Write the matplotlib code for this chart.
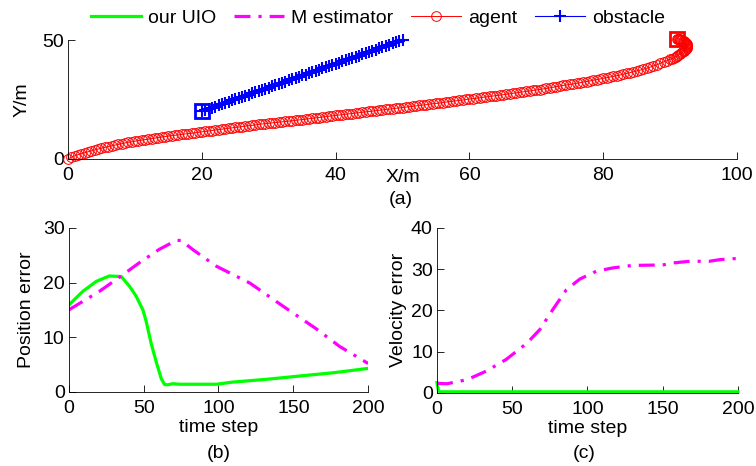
import matplotlib.pyplot as plt

plt.rcParams['font.family'] = ['Liberation Sans', 'DejaVu Sans']
FS = 14

# trajectories (panel a) as (x, y)
agent_path = [
    (0, 0.0), (0.5, 0.7), (1, 1.3), (1.5, 1.8), (2, 2.2), (2.5, 2.6), (3, 3.0), (3.5, 3.4),
    (4, 3.8), (4.5, 4.15), (5, 4.5), (5.5, 4.85), (6, 5.2), (6.5, 5.5), (7, 5.8), (7.5, 6.1),
    (8, 6.4), (8.5, 6.7), (9, 7.0), (9.5, 7.2), (10, 7.45), (10.5, 7.7), (11, 7.9), (11.5, 8.1),
    (12, 8.3), (12.5, 8.55), (13, 8.75), (13.5, 9.0), (14, 9.2), (14.5, 9.4), (15, 9.6),
    (15.5, 9.8), (16, 9.95), (16.5, 10.1), (17, 10.3), (17.5, 10.5), (18, 10.65), (18.5, 10.8),
    (19, 11.0), (19.5, 11.2), (20, 11.4), (20.5, 11.55), (21, 11.75), (21.5, 11.95),
    (22, 12.15), (22.5, 12.3), (23, 12.5), (23.5, 12.7), (24, 12.9), (24.5, 13.05),
    (25, 13.25), (25.5, 13.4), (26, 13.6), (26.5, 13.8), (27, 13.95), (27.5, 14.1),
    (28, 14.3), (28.5, 14.5), (29, 14.7), (29.5, 14.85), (30, 15.0), (30.5, 15.15),
    (31, 15.3), (31.5, 15.45), (32, 15.6), (32.5, 15.75), (33, 15.9), (33.5, 16.05),
    (34, 16.2), (34.5, 16.4), (35, 16.55), (35.5, 16.7), (36, 16.9), (36.5, 17.05),
    (37, 17.25), (37.5, 17.4), (38, 17.6), (38.5, 17.75), (39, 17.95), (39.5, 18.1),
    (40, 18.3), (40.5, 18.45), (41, 18.6), (41.5, 18.8), (42, 18.95), (42.5, 19.1),
    (43, 19.3), (43.5, 19.45), (44, 19.6), (44.5, 19.8), (45, 19.95), (45.5, 20.1),
    (46, 20.3), (46.5, 20.45), (47, 20.6), (47.5, 20.8), (48, 20.95), (48.5, 21.1),
    (49, 21.3), (49.5, 21.45), (50, 21.6), (50.5, 21.8), (51, 21.95), (51.5, 22.1),
    (52, 22.3), (52.5, 22.5), (53, 22.65), (53.5, 22.8), (54, 23.0), (54.5, 23.2),
    (55, 23.35), (55.5, 23.5), (56, 23.7), (56.5, 23.9), (57, 24.1), (57.5, 24.25),
    (58, 24.45), (58.5, 24.6), (59, 24.8), (59.5, 25.0), (60, 25.2), (60.5, 25.35),
    (61, 25.55), (61.5, 25.7), (62, 25.9), (62.5, 26.1), (63, 26.3), (63.5, 26.45),
    (64, 26.65), (64.5, 26.8), (65, 27.0), (65.5, 27.2), (66, 27.4), (66.5, 27.6),
    (67, 27.8), (67.5, 28.0), (68, 28.2), (68.5, 28.4), (69, 28.6), (69.5, 28.8),
    (70, 29.0), (70.5, 29.2), (71, 29.45), (71.5, 29.65), (72, 29.9), (72.5, 30.15),
    (73, 30.4), (73.5, 30.65), (74, 30.9), (74.5, 31.1), (75, 31.35), (75.5, 31.55),
    (76, 31.8), (76.5, 32.05), (77, 32.3), (77.5, 32.55), (78, 32.8), (78.5, 33.1),
    (79, 33.35), (79.5, 33.6), (80, 33.9), (80.5, 34.15), (81, 34.45), (81.5, 34.7),
    (82, 35.0), (82.5, 35.3), (83, 35.6), (83.5, 35.95), (84, 36.3), (84.5, 36.65),
    (85, 37.0), (85.5, 37.35), (86, 37.75), (86.5, 38.15), (87, 38.6), (87.5, 39.1),
    (88, 39.6), (88.5, 40.2), (89, 40.8), (89.5, 41.3), (90, 41.9), (90.3, 42.2),
    (90.5, 42.5), (90.8, 42.9), (91.0, 43.3), (91.2, 43.65), (91.4, 44.0), (91.6, 44.4),
    (91.8, 44.8), (92.0, 45.2), (92.1, 45.6), (92.25, 46.0), (92.4, 46.4), (92.45, 46.8),
    (92.5, 47.2), (92.5, 47.55), (92.5, 47.9), (92.45, 48.2), (92.4, 48.5), (92.3, 48.75),
    (92.2, 49.0), (92.1, 49.25), (92.0, 49.5), (91.85, 49.7), (91.7, 49.9), (91.6, 50.05),
    (91.5, 50.2), (91.4, 50.3), (91.3, 50.4), (91.2, 50.5), (91.1, 50.6), (91.0, 50.6)]
agent_x = [p[0] for p in agent_path]
agent_y = [p[1] for p in agent_path]

obstacle_x = [20.0, 20.5, 21.0, 21.5, 22.0, 22.5, 23.0, 23.5, 24.0, 24.5, 25.0, 25.5, 26.0,
              26.5, 27.0, 27.5, 28.0, 28.5, 29.0, 29.5, 30.0, 30.5, 31.0, 31.5, 32.0, 32.5,
              33.0, 33.5, 34.0, 34.5, 35.0, 35.5, 36.0, 36.5, 37.0, 37.5, 38.0, 38.5, 39.0,
              39.5, 40.0, 40.5, 41.0, 41.5, 42.0, 42.5, 43.0, 43.5, 44.0, 44.5, 45.0, 45.5,
              46.0, 46.5, 47.0, 47.5, 48.0, 48.5, 49.0, 49.5, 50.0]
obstacle_y = [20.0, 20.6, 21.0, 21.6, 22.0, 22.5, 23.1, 23.5, 24.0, 24.6, 25.0, 25.5, 26.1,
              26.5, 27.0, 27.6, 28.0, 28.5, 29.1, 29.5, 30.0, 30.6, 31.0, 31.5, 32.1, 32.5,
              33.0, 33.6, 34.0, 34.5, 35.1, 35.5, 36.0, 36.6, 37.0, 37.5, 38.1, 38.5, 39.0,
              39.6, 40.0, 40.5, 41.1, 41.5, 42.0, 42.6, 43.0, 43.5, 44.1, 44.5, 45.0, 45.6,
              46.0, 46.5, 47.1, 47.5, 48.0, 48.6, 49.0, 49.5, 50.1]

# position error (panel b)
pos_uio_t = [0, 9.4, 18.3, 27, 35, 40.6, 45, 49.5, 51.7, 55, 58.4, 61.8, 64, 66, 69.6, 74,
             85, 98.5, 109.7, 132, 154, 176.6, 200]
pos_uio = [15.9, 18.4, 20.2, 21.2, 21.1, 19.3, 17.5, 15.0, 12.9, 8.9, 5.5, 2.4, 1.35, 1.3,
           1.5, 1.4, 1.4, 1.4, 1.8, 2.3, 2.9, 3.5, 4.3]
pos_m_t = [0, 20.5, 34, 47, 60.6, 71.8, 75, 83, 98.5, 121, 143, 165, 181, 200]
pos_m = [15.0, 18.4, 21.0, 23.6, 26.1, 27.7, 27.7, 26.0, 23.0, 19.9, 15.7, 11.6, 8.3, 5.2]

# velocity error (panel c)
vel_uio_t = [0, 1, 2, 50, 100, 150, 200]
vel_uio = [2.5, 0.5, 0.25, 0.25, 0.25, 0.25, 0.25]
vel_m_t = [0, 6.6, 20, 33, 46, 60, 68.5, 77, 86, 95, 106, 117, 130, 150, 157, 168, 181,
           188, 200]
vel_m = [2.3, 2.2, 3.2, 5.3, 8.1, 12.1, 15.4, 20.2, 25.0, 27.6, 29.5, 30.3, 30.9, 31.0,
         31.5, 31.9, 31.9, 32.3, 32.6]

GREEN = '#00ff00'
MAGENTA = '#ff00ff'
dashdot = (0, (5, 2.5, 1, 2.5))

fig = plt.figure(figsize=(7.56, 4.66), dpi=100)
ax_a = fig.add_axes([0.090, 0.659, 0.885, 0.255])
ax_b = fig.add_axes([0.091, 0.159, 0.396, 0.352])
ax_c = fig.add_axes([0.578, 0.157, 0.398, 0.354])

for ax in (ax_a, ax_b, ax_c):
    ax.spines['top'].set_visible(False)
    ax.spines['right'].set_visible(False)
    ax.spines['left'].set_linewidth(0.6)
    ax.spines['bottom'].set_linewidth(0.6)
    ax.tick_params(direction='in', length=5, width=0.6, labelsize=FS)
    ax.tick_params(axis='x', pad=6)
    ax.tick_params(axis='y', pad=3)

# panel a
h_agent, = ax_a.plot(agent_x, agent_y, '-o', color='red', mfc='none', ms=7, mew=0.7,
                     lw=0.7, clip_on=False, label='agent')
h_obst, = ax_a.plot(obstacle_x, obstacle_y, '-+', color='blue', ms=8, mew=1.5,
                    lw=0.8, clip_on=False, label='obstacle')
ax_a.plot([agent_x[-1]], [agent_y[-1]], 's', color='red', mfc='none', ms=10, mew=2, clip_on=False)
ax_a.plot([obstacle_x[0]], [obstacle_y[0]], 's', color='blue', mfc='none', ms=10, mew=2, clip_on=False)
ax_a.set_xlim(0, 100)
ax_a.set_ylim(0, 50)
ax_a.set_xticks([0, 20, 40, 60, 80, 100])
ax_a.set_yticks([0, 50])
ax_a.set_xlabel('X/m', fontsize=FS)
ax_a.xaxis.set_label_coords(0.5, -0.085)
ax_a.set_ylabel('Y/m', fontsize=FS, labelpad=8)

# panel b
h_uio, = ax_b.plot(pos_uio_t, pos_uio, color=GREEN, lw=2.3, label='our UIO')
h_m, = ax_b.plot(pos_m_t, pos_m, color=MAGENTA, lw=2.3, linestyle=dashdot, label='M estimator')
ax_b.set_xlim(0, 200)
ax_b.set_ylim(0, 30)
ax_b.set_xticks([0, 50, 100, 150, 200])
ax_b.set_yticks([0, 10, 20, 30])
ax_b.set_xlabel('time step', fontsize=FS, labelpad=1)
ax_b.set_ylabel('Position error', fontsize=FS, labelpad=6)

# panel c
ax_c.plot(vel_uio_t, vel_uio, color=GREEN, lw=2.3, clip_on=False)
ax_c.plot(vel_m_t, vel_m, color=MAGENTA, lw=2.3, linestyle=dashdot)
ax_c.set_xlim(0, 200)
ax_c.set_ylim(0, 40)
ax_c.set_xticks([0, 50, 100, 150, 200])
ax_c.set_yticks([0, 10, 20, 30, 40])
ax_c.set_xlabel('time step', fontsize=FS, labelpad=1)
ax_c.set_ylabel('Velocity error', fontsize=FS, labelpad=3)

fig.text(0.530, 0.572, '(a)', ha='center', va='center', fontsize=FS)
fig.text(0.290, 0.026, '(b)', ha='center', va='center', fontsize=FS)
fig.text(0.773, 0.026, '(c)', ha='center', va='center', fontsize=FS)

fig.legend([h_uio, h_m, h_agent, h_obst], ['our UIO', 'M estimator', 'agent', 'obstacle'],
           loc='center', bbox_to_anchor=(0.5, 0.962), ncol=4, frameon=False,
           handlelength=2.6, handletextpad=0.35, columnspacing=0.9, fontsize=FS)

fig.savefig('out.png', dpi=100)
